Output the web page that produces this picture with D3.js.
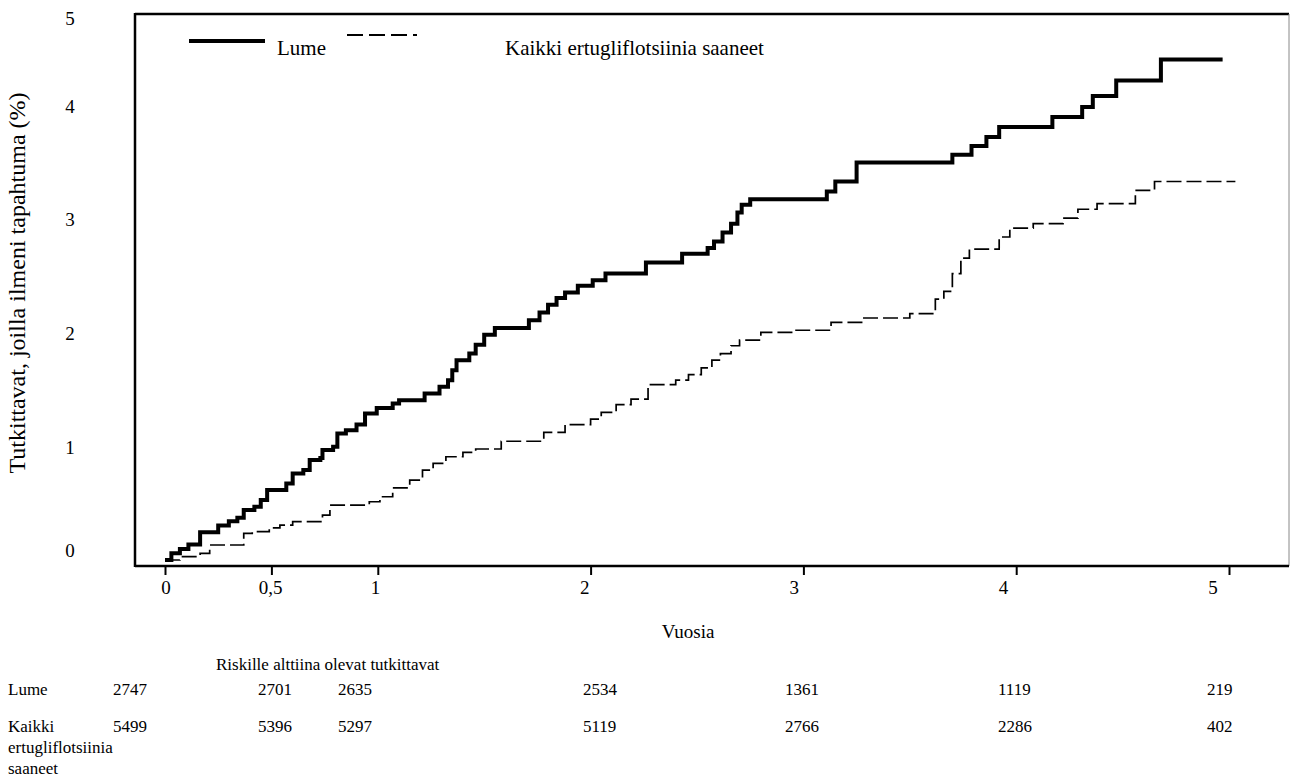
<!DOCTYPE html>
<html>
<head>
<meta charset="utf-8">
<script src="https://cdn.jsdelivr.net/npm/d3@7"></script>
<style>
  body { margin: 0; background: #fff; }
  text { font-family: "Liberation Serif", "Times New Roman", serif; fill: #000; }
</style>
</head>
<body>
<svg id="chart" width="1298" height="778"></svg>
<script>
// ---- data ----
var xTickValues = [0, 0.5, 1, 2, 3, 4, 5];
var xTickLabels = ["0", "0,5", "1", "2", "3", "4", "5"];
var yTickValues = [0, 1, 2, 3, 4, 5];

// step points [years, cumulative incidence %]
var lumeSteps = [
  [0, 0], [0.03, 0.06], [0.07, 0.10], [0.11, 0.14], [0.165, 0.25], [0.25, 0.31],
  [0.30, 0.35], [0.34, 0.38], [0.37, 0.45], [0.42, 0.48], [0.45, 0.54], [0.48, 0.63],
  [0.57, 0.69], [0.60, 0.78], [0.65, 0.81], [0.68, 0.90], [0.73, 0.92], [0.74, 0.99],
  [0.79, 1.02], [0.81, 1.14], [0.85, 1.17], [0.90, 1.22], [0.94, 1.32], [0.995, 1.37],
  [1.07, 1.41], [1.10, 1.44], [1.22, 1.50], [1.29, 1.56], [1.33, 1.62], [1.35, 1.71],
  [1.37, 1.80], [1.43, 1.86], [1.46, 1.94], [1.50, 2.03], [1.55, 2.09], [1.71, 2.16],
  [1.76, 2.23], [1.80, 2.30], [1.84, 2.36], [1.88, 2.41], [1.94, 2.47], [2.01, 2.52],
  [2.07, 2.58], [2.26, 2.68], [2.43, 2.76], [2.55, 2.81], [2.58, 2.87], [2.62, 2.95],
  [2.66, 3.03], [2.69, 3.13], [2.71, 3.20], [2.75, 3.25], [3.11, 3.32], [3.15, 3.41],
  [3.25, 3.58], [3.70, 3.65], [3.79, 3.73], [3.86, 3.81], [3.92, 3.90], [4.17, 3.99],
  [4.31, 4.08], [4.36, 4.18], [4.47, 4.32], [4.68, 4.51]
];
var lumeEnd = 4.97;

var ertuSteps = [
  [0, 0], [0.07, 0.03], [0.165, 0.06], [0.21, 0.135], [0.37, 0.24], [0.41, 0.255],
  [0.49, 0.29], [0.54, 0.315], [0.60, 0.345], [0.74, 0.405], [0.775, 0.495], [0.96, 0.525],
  [1.01, 0.57], [1.07, 0.65], [1.15, 0.72], [1.21, 0.81], [1.26, 0.87], [1.32, 0.93],
  [1.40, 0.97], [1.46, 1.00], [1.58, 1.07], [1.78, 1.15], [1.88, 1.22], [2.00, 1.27],
  [2.05, 1.33], [2.12, 1.40], [2.19, 1.45], [2.27, 1.58], [2.40, 1.62], [2.46, 1.67],
  [2.52, 1.73], [2.57, 1.80], [2.61, 1.86], [2.66, 1.93], [2.70, 1.98], [2.80, 2.05],
  [2.95, 2.07], [3.13, 2.14], [3.28, 2.18], [3.50, 2.22], [3.62, 2.35], [3.66, 2.42],
  [3.70, 2.58], [3.74, 2.72], [3.78, 2.80], [3.92, 2.91], [3.97, 2.99], [4.08, 3.03],
  [4.22, 3.08], [4.29, 3.16], [4.38, 3.21], [4.56, 3.33], [4.65, 3.41]
];
var ertuEnd = 5.03;

var seriesNames = ["Lume", "Kaikki ertugliflotsiinia saaneet"];
var riskTimes = [0, 0.5, 1, 2, 3, 4, 5];
var riskLume = [2747, 2701, 2635, 2534, 1361, 1119, 219];
var riskErtu = [5499, 5396, 5297, 5119, 2766, 2286, 402];
var riskTitle = "Riskille alttiina olevat tutkittavat";
var riskRowLabels = [["Lume"], ["Kaikki", "ertugliflotsiinia", "saaneet"]];
var xTitle = "Vuosia";
var yTitle = "Tutkittavat, joilla ilmeni tapahtuma (%)";

// ---- layout ----
var svg = d3.select("#chart");
var frame = { left: 135, top: 14, right: 1289, bottom: 566 };

var x = d3.scaleLinear().domain([0, 5]).range([165, 1229]);
var y = d3.scaleLinear().domain([0, 5]).range([560, 5]);
// label positions in the original drift slightly from the tick marks
var xLab = d3.scaleLinear().domain([0, 5]).range([166, 1213]);
var yLab = d3.scaleLinear().domain([0, 1, 2, 3, 4, 5]).range([550, 447, 333, 219, 106, 18]);
var riskCol = d3.scaleLinear().domain(riskTimes).range([113, 258, 338, 583, 785, 998, 1207]);

// frame
svg.append("line").attr("x1", frame.left).attr("x2", frame.right)
  .attr("y1", frame.top).attr("y2", frame.top)
  .attr("stroke", "#000").attr("stroke-width", 2.5);
svg.append("line").attr("x1", frame.right).attr("x2", frame.right)
  .attr("y1", frame.top).attr("y2", frame.bottom)
  .attr("stroke", "#888").attr("stroke-width", 1);
svg.append("line").attr("x1", frame.left).attr("x2", frame.left)
  .attr("y1", frame.top - 1).attr("y2", frame.bottom + 1)
  .attr("stroke", "#000").attr("stroke-width", 2.5);

// x axis
var xAxis = d3.axisBottom(x).tickValues(xTickValues).tickSize(9).tickSizeOuter(0).tickFormat("");
var gx = svg.append("g").attr("transform", "translate(0," + frame.bottom + ")").call(xAxis);
gx.select(".domain").attr("d", "M" + frame.left + ",0H" + frame.right)
  .attr("stroke", "#000").attr("stroke-width", 2.5);
gx.selectAll(".tick line").attr("stroke", "#000").attr("stroke-width", 2);

svg.selectAll(".xlab").data(xTickValues).enter().append("text")
  .attr("class", "xlab")
  .attr("x", function(d) { return xLab(d); })
  .attr("y", 594)
  .attr("text-anchor", "middle")
  .attr("font-size", "19px")
  .text(function(d, i) { return xTickLabels[i]; });

svg.selectAll(".ylab").data(yTickValues).enter().append("text")
  .attr("class", "ylab")
  .attr("x", 70)
  .attr("y", function(d) { return yLab(d) + 7; })
  .attr("text-anchor", "middle")
  .attr("font-size", "19px")
  .text(function(d) { return d; });

svg.append("text")
  .attr("transform", "translate(25,283) rotate(-90)")
  .attr("text-anchor", "middle")
  .attr("font-size", "24px")
  .text(yTitle);

svg.append("text")
  .attr("x", 688).attr("y", 638)
  .attr("text-anchor", "middle")
  .attr("font-size", "19px")
  .text(xTitle);

// curves
var line = d3.line()
  .x(function(d) { return x(d[0]); })
  .y(function(d) { return y(d[1]); })
  .curve(d3.curveStepAfter);

var lumePts = lumeSteps.concat([[lumeEnd, lumeSteps[lumeSteps.length - 1][1]]]);
var ertuPts = ertuSteps.concat([[ertuEnd, ertuSteps[ertuSteps.length - 1][1]]]);

svg.append("path").datum(ertuPts)
  .attr("d", line)
  .attr("fill", "none").attr("stroke", "#000")
  .attr("stroke-width", 1.7).attr("stroke-dasharray", "15,5");

svg.append("path").datum(lumePts)
  .attr("d", line)
  .attr("fill", "none").attr("stroke", "#000")
  .attr("stroke-width", 4).attr("stroke-linejoin", "miter");

// legend
svg.append("line").attr("x1", 189).attr("x2", 265).attr("y1", 41).attr("y2", 41)
  .attr("stroke", "#000").attr("stroke-width", 4);
svg.append("text").attr("x", 277).attr("y", 55).attr("font-size", "21px").text(seriesNames[0]);
svg.append("line").attr("x1", 347).attr("x2", 417).attr("y1", 35).attr("y2", 35)
  .attr("stroke", "#000").attr("stroke-width", 2.2).attr("stroke-dasharray", "16,6");
svg.append("text").attr("x", 505).attr("y", 55).attr("font-size", "21px").text(seriesNames[1]);

// risk table
svg.append("text").attr("x", 216).attr("y", 670).attr("font-size", "17px").text(riskTitle);

var rows = [
  { labels: riskRowLabels[0], values: riskLume, y: 695 },
  { labels: riskRowLabels[1], values: riskErtu, y: 732 }
];
rows.forEach(function(row) {
  row.labels.forEach(function(l, i) {
    svg.append("text").attr("x", 8).attr("y", row.y + i * 21)
      .attr("font-size", "17px").text(l);
  });
  svg.selectAll(null).data(row.values).enter().append("text")
    .attr("x", function(d, i) { return riskCol(riskTimes[i]); })
    .attr("y", row.y)
    .attr("font-size", "17px")
    .text(function(d) { return d; });
});
</script>
</body>
</html>
